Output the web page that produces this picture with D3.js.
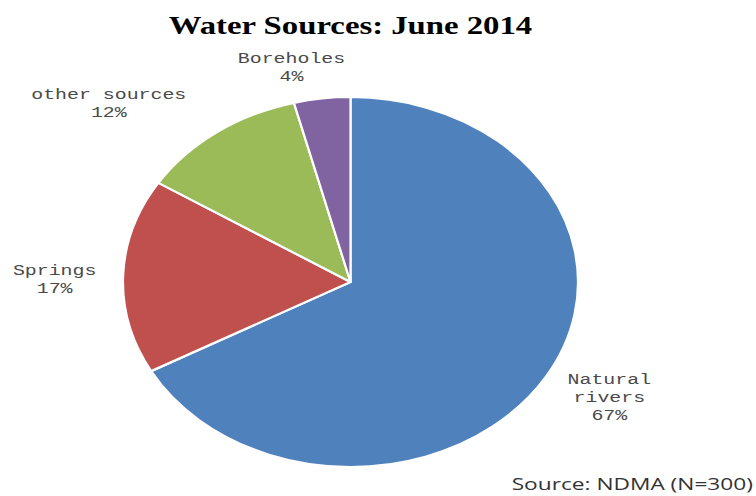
<!DOCTYPE html>
<html>
<head>
<meta charset="utf-8">
<script src="https://cdn.jsdelivr.net/npm/d3@7"></script>
<style>
  body { margin: 0; background: #fff; }
  svg { display: block; }
</style>
</head>
<body>
<svg id="chart" width="756" height="496"></svg>
<script>
// Water source shares, June 2014 (percent of households)
const categories = ["Natural rivers", "Springs", "other sources", "Boreholes"];
const labelLines = [["Natural", "rivers"], ["Springs"], ["other sources"], ["Boreholes"]];
const shares = [67, 17, 12, 4];
const colors = ["#4F81BD", "#C0504D", "#9BBB59", "#8064A2"];
const titleText = "Water Sources: June 2014";
const sourceText = "Source: NDMA (N=300)";

// Layout
const W = 756, H = 496;
const cx = 350.5, cy = 282;
const rx = 227.5, ry = 185;      // the pie is drawn stretched sideways
const textStretch = 1.42;         // text is widened to the same proportion
const lineGap = 18;
// label block offsets from the rim point at each slice's mid-angle
const labelNudge = [[63, 21], [-68.5, 3], [-108, -29], [-30.5, -31.5]];

const svg = d3.select("#chart");

const data = categories.map((c, i) => ({ name: c, value: shares[i], lines: labelLines[i], color: colors[i] }));

const pie = d3.pie().sort(null).value(d => d.value);
const arcs = pie(data);
const arc = d3.arc().innerRadius(0).outerRadius(ry);

const pieG = svg.append("g")
  .attr("transform", `translate(${cx},${cy}) scale(${rx / ry},1)`);

pieG.selectAll("path")
  .data(arcs)
  .join("path")
  .attr("d", arc)
  .attr("fill", d => d.data.color)
  .attr("stroke", "#fff")
  .attr("stroke-width", 2.2)
  .attr("vector-effect", "non-scaling-stroke")
  .attr("stroke-linejoin", "round");

// Slice labels: name lines then the percentage
const labelG = svg.append("g")
  .attr("font-family", "'Liberation Mono', 'DejaVu Sans Mono', monospace")
  .attr("font-size", 14)
  .attr("fill", "#4a4a4a");

arcs.forEach((a, i) => {
  const mid = (a.startAngle + a.endAngle) / 2;
  const ex = cx + Math.sin(mid) * rx;
  const ey = cy - Math.cos(mid) * ry;
  const bx = ex + labelNudge[i][0];
  const by = ey + labelNudge[i][1];
  const lines = a.data.lines.concat([a.data.value + "%"]);
  const top = by - (lines.length - 1) * lineGap / 2;
  lines.forEach((t, k) => {
    labelG.append("text")
      .attr("text-anchor", "middle")
      .attr("transform", `translate(${bx},${top + k * lineGap + 5}) scale(${textStretch},1)`)
      .text(t);
  });
});

// Title
svg.append("text")
  .attr("text-anchor", "middle")
  .attr("transform", `translate(${cx},33.5) scale(1.31,1)`)
  .attr("font-family", "'Liberation Serif', 'Times New Roman', serif")
  .attr("font-weight", "bold")
  .attr("font-size", 25)
  .attr("fill", "#000")
  .text(titleText);

// Source note
svg.append("text")
  .attr("text-anchor", "end")
  .attr("transform", `translate(753,490) scale(${textStretch},1)`)
  .attr("font-family", "'Open Sans', 'DejaVu Sans', sans-serif")
  .attr("font-size", 16)
  .attr("fill", "#333")
  .text(sourceText);
</script>
</body>
</html>
